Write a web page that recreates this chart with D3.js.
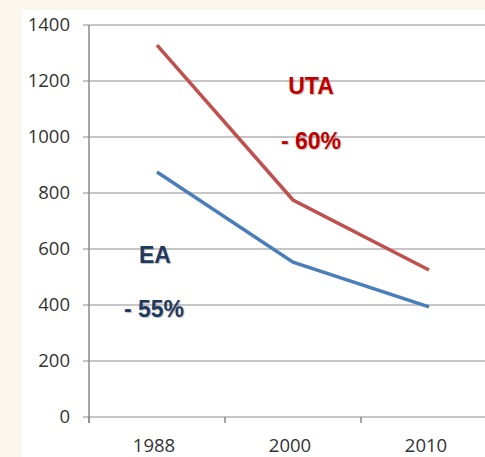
<!DOCTYPE html>
<html lang="en">
<head>
<meta charset="UTF-8">
<title>UTA / EA</title>
<script src="https://d3js.org/d3.v7.min.js"></script>
<style>
    body { margin: 0; background: #fbf6ee; }
    svg { display: block; }
</style>
</head>
<body>
<svg></svg>
<script>
const years = ["1988", "2000", "2010"];
const utaValues = [1328, 775, 525];
const eaValues = [875, 553, 393];
const yTicks = [0, 200, 400, 600, 800, 1000, 1200, 1400];

const width = 485, height = 457;
const margin = { top: 25, right: -12, bottom: 40, left: 89 };

const svg = d3.select("svg").attr("width", width).attr("height", height);

svg.append("rect")
    .attr("x", 22).attr("y", 10)
    .attr("width", width - 22).attr("height", height - 10)
    .attr("fill", "#fff");

const x = d3.scaleBand()
    .domain(years)
    .range([margin.left, width - margin.right]);

const y = d3.scaleLinear()
    .domain([0, 1400])
    .range([height - margin.bottom, margin.top]);

// gridlines
svg.append("g")
    .selectAll("line")
    .data(yTicks)
    .join("line")
        .attr("x1", margin.left - 6)
        .attr("x2", width)
        .attr("y1", d => y(d))
        .attr("y2", d => y(d))
        .attr("stroke", "#b3b3b3")
        .attr("stroke-width", 1.5);

// y labels
svg.append("g")
    .attr("font-family", "'Open Sans', sans-serif")
    .attr("font-size", 18.5)
    .attr("fill", "#333")
    .attr("text-anchor", "end")
    .selectAll("text")
    .data(yTicks)
    .join("text")
        .attr("x", 70)
        .attr("y", d => y(d))
        .attr("dy", "0.35em")
        .text(d => d);

// y axis line
svg.append("line")
    .attr("x1", margin.left).attr("x2", margin.left)
    .attr("y1", y(1400)).attr("y2", y(0) + 6)
    .attr("stroke", "#8a8a8a")
    .attr("stroke-width", 1.5);

// x ticks (between categories)
const xTickPos = years.map(d => x(d)).concat([x(years[years.length - 1]) + x.bandwidth()]);
svg.append("g")
    .selectAll("line")
    .data(xTickPos)
    .join("line")
        .attr("x1", d => d).attr("x2", d => d)
        .attr("y1", y(0)).attr("y2", y(0) + 6)
        .attr("stroke", "#8a8a8a")
        .attr("stroke-width", 1.5);

svg.append("g")
    .attr("font-family", "'Open Sans', sans-serif")
    .attr("font-size", 18.5)
    .attr("fill", "#333")
    .attr("text-anchor", "middle")
    .selectAll("text")
    .data(years)
    .join("text")
        .attr("x", d => x(d) + x.bandwidth() / 2 - 3)
        .attr("y", 452)
        .text(d => d);

const line = d3.line()
    .x((d, i) => x(years[i]) + x.bandwidth() / 2)
    .y(d => y(d));

svg.append("path")
    .datum(utaValues)
    .attr("fill", "none")
    .attr("stroke", "#c0504d")
    .attr("stroke-width", 3.5)
    .attr("d", line);

svg.append("path")
    .datum(eaValues)
    .attr("fill", "none")
    .attr("stroke", "#4a7ebb")
    .attr("stroke-width", 3.5)
    .attr("d", line);

// annotations
const notes = [
    { text: "UTA", x: 311, y: 94, color: "#c00000" },
    { text: "- 60%", x: 311, y: 149, color: "#c00000" },
    { text: "EA", x: 155, y: 263, color: "#1f3a60" },
    { text: "- 55%", x: 154, y: 317, color: "#1f3a60" }
];

svg.append("g")
    .attr("font-family", "'Liberation Sans', Arial, sans-serif")
    .attr("font-weight", "bold")
    .attr("font-size", 23)
    .attr("text-anchor", "middle")
    .selectAll("text")
    .data(notes)
    .join("text")
        .attr("x", d => d.x)
        .attr("y", d => d.y)
        .attr("fill", d => d.color)
        .style("text-shadow", "1px 1px 1px rgba(0,0,0,0.25)")
        .text(d => d.text);
</script>
</body>
</html>
